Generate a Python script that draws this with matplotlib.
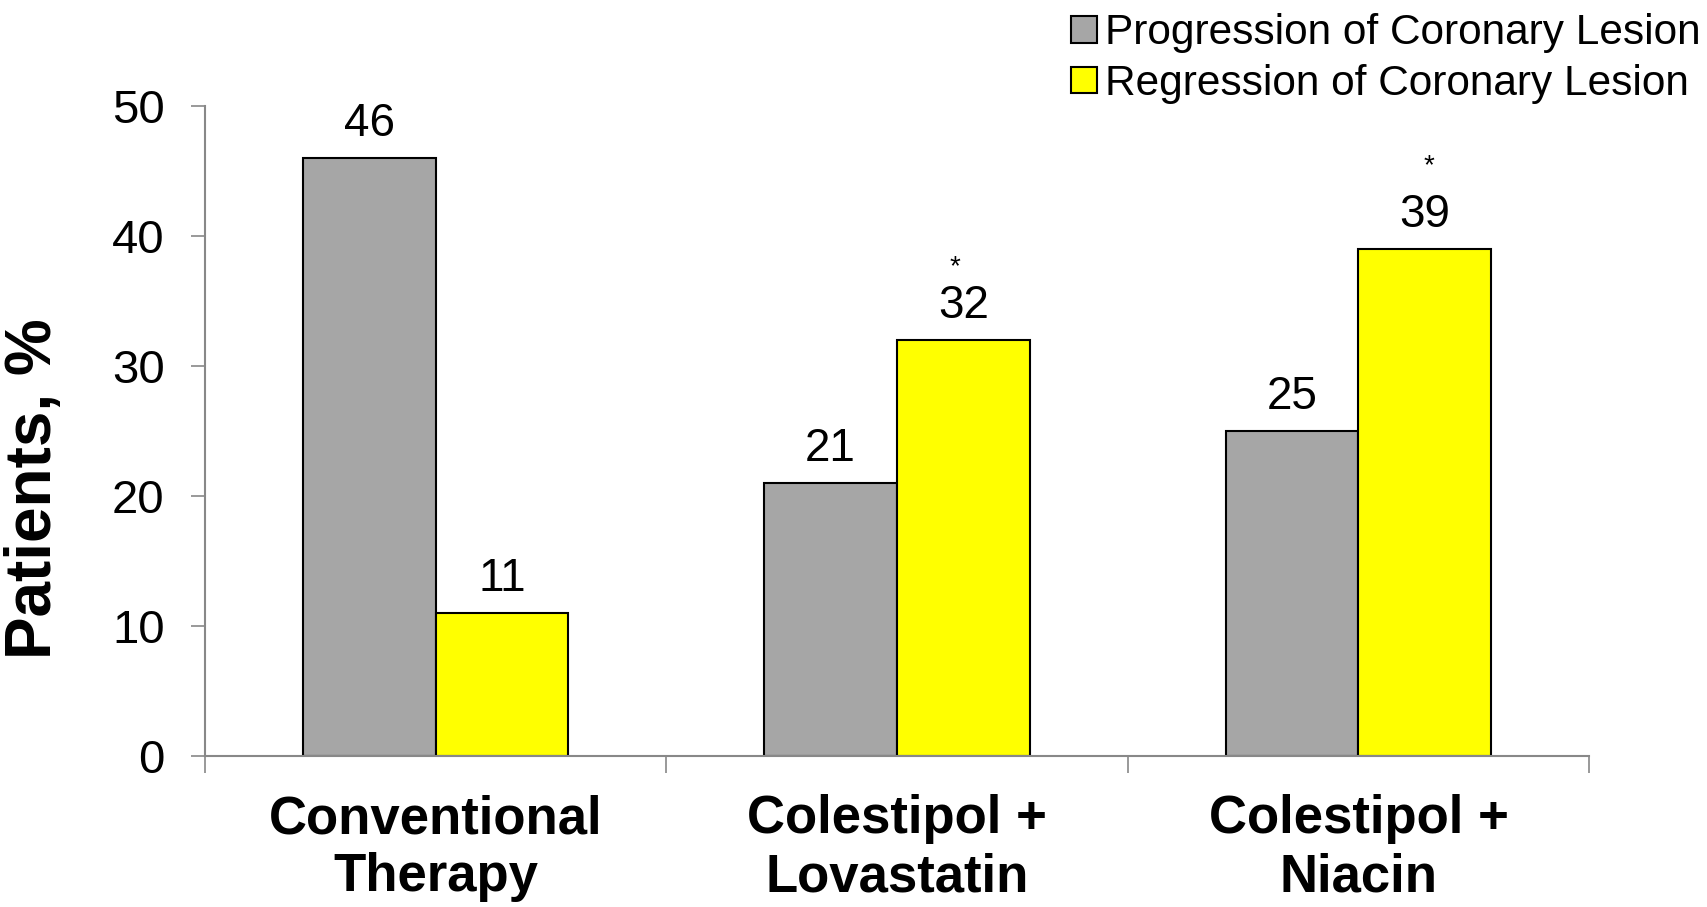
import numpy as np
import matplotlib
matplotlib.use("Agg")
import matplotlib.pyplot as plt
from matplotlib.patches import Patch

plt.rcParams["font.family"] = ["Liberation Sans", "DejaVu Sans"]

# ---------------------------------------------------------------------------
# Data
# ---------------------------------------------------------------------------
groups      = ["Conventional\nTherapy", "Colestipol +\nLovastatin", "Colestipol +\nNiacin"]
progression = [46, 21, 25]
regression  = [11, 32, 39]
# significance markers on the regression bars
reg_star    = [False, True, True]
series_names = ["Progression of Coronary Lesion", "Regression of Coronary Lesion"]

GRAY   = "#a6a6a6"
YELLOW = "#ffff00"
AXIS_C = "#888888"

# star placement (offset points from bar top), as in the original slide
star_offsets = [(0, 52), (-6, 52), (2.5, 59)]

# ---------------------------------------------------------------------------
# Figure
# ---------------------------------------------------------------------------
fig = plt.figure(figsize=(17.07, 9.07), dpi=100)
ax = fig.add_axes([0.120, 0.167, 0.811, 0.7166])

x = np.arange(len(groups))
w = 0.288

b1 = ax.bar(x - w / 2, progression, w, color=GRAY, edgecolor="black", linewidth=1.5)
b2 = ax.bar(x + w / 2, regression, w, color=YELLOW, edgecolor="black", linewidth=1.5)

for bars, vals in [(b1, progression), (b2, regression)]:
    for rect, v in zip(bars, vals):
        ax.annotate(f"{v}", (rect.get_x() + rect.get_width() / 2, v),
                    xytext=(0, 24), textcoords="offset points",
                    ha="center", va="center", fontsize=33)

for rect, v, star, off in zip(b2, regression, reg_star, star_offsets):
    if star:
        ax.annotate("*", (rect.get_x() + rect.get_width() / 2, v),
                    xytext=off, textcoords="offset points",
                    ha="center", va="center", fontsize=20)

ax.set_xlim(-0.5, len(groups) - 0.5)
ax.set_ylim(0, 50)
ax.set_yticks([0, 10, 20, 30, 40, 50])
ax.tick_params(axis="y", labelsize=34, length=10, width=1.2, color=AXIS_C, pad=19)

ax.set_xticks(x)
ax.set_xticklabels(groups, fontsize=38, fontweight="bold", linespacing=1.2)
ax.tick_params(axis="x", which="major", length=0, pad=28)
ax.set_xticks(np.arange(len(groups) + 1) - 0.5, minor=True)
ax.tick_params(axis="x", which="minor", length=12, width=1.2, color=AXIS_C)

for s in ["top", "right"]:
    ax.spines[s].set_visible(False)
for s in ["left", "bottom"]:
    ax.spines[s].set_color(AXIS_C)
    ax.spines[s].set_linewidth(1.5)

ax.set_ylabel("Patients, %", fontsize=46, fontweight="bold")
ax.yaxis.set_label_coords(-0.102, 0.41)

handles = [Patch(facecolor=GRAY, edgecolor="black", linewidth=1.5),
           Patch(facecolor=YELLOW, edgecolor="black", linewidth=1.5)]
fig.legend(handles, series_names, loc="upper left", bbox_to_anchor=(0.625, 0.99),
           frameon=False, fontsize=30.5, handlelength=0.6, handleheight=0.6,
           handletextpad=0.2, labelspacing=0.25, borderpad=0.1, borderaxespad=0)

fig.savefig("out.png", dpi=100)
